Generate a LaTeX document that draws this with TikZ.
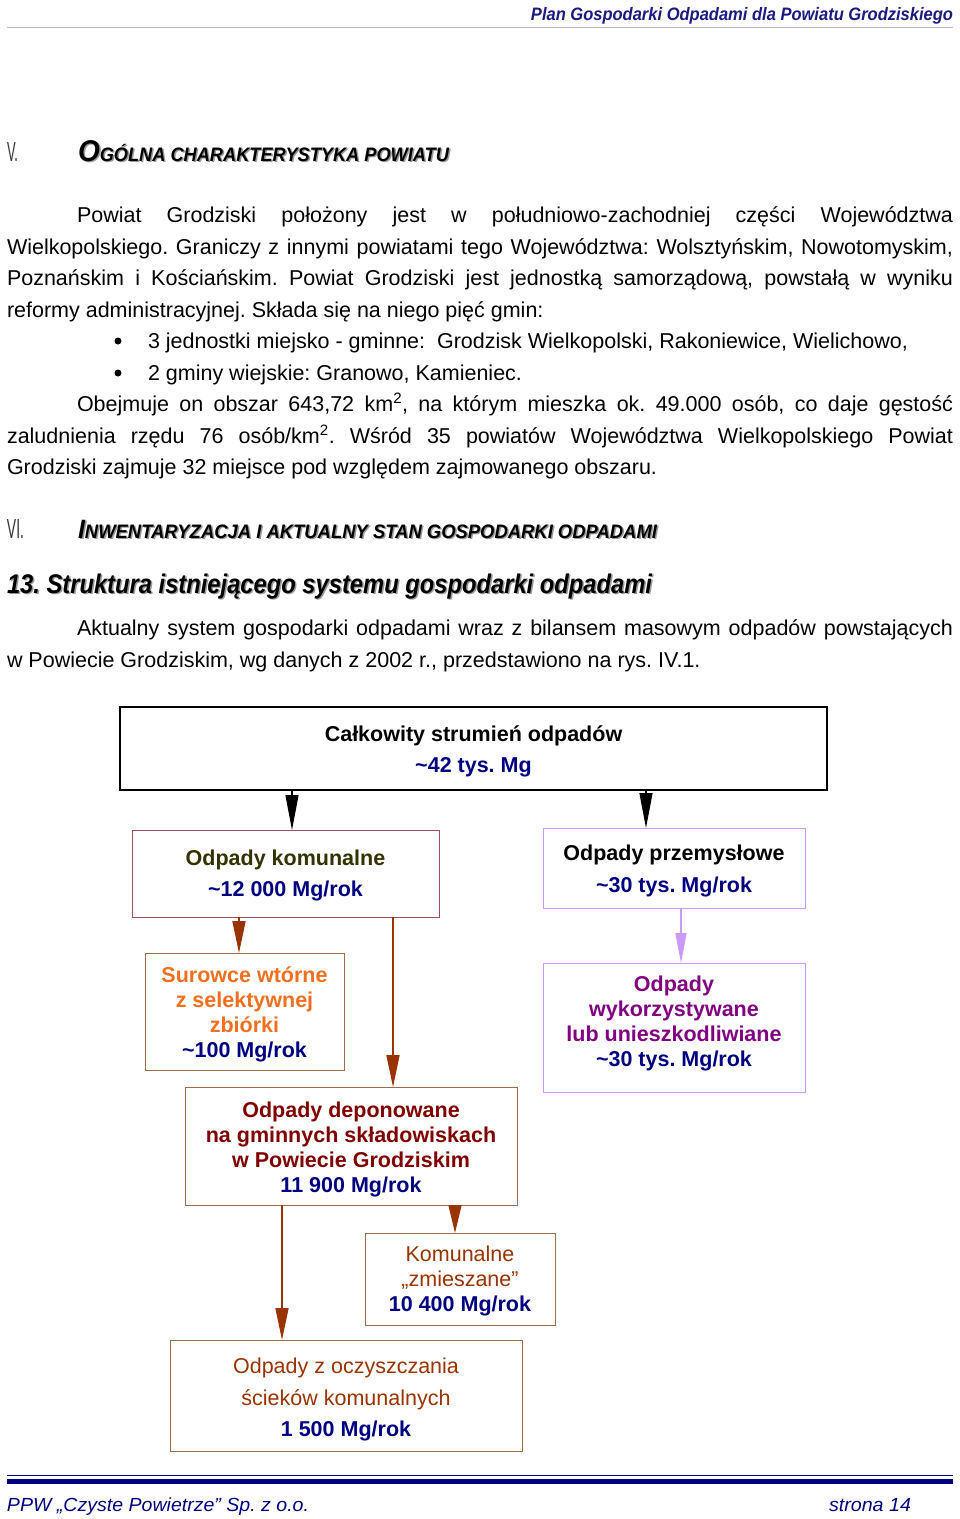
\documentclass[tikz,border=0pt]{standalone}
\usepackage{fontspec}
\setmainfont{Liberation Sans}
\usepackage{graphicx}
\usetikzlibrary{arrows.meta}
\frenchspacing
\definecolor{navy}{HTML}{000080}
\definecolor{hdrblue}{HTML}{1A1A80}
\definecolor{olivetxt}{HTML}{333300}
\definecolor{brownarr}{HTML}{993300}
\definecolor{brownbox}{HTML}{9C6A4E}
\definecolor{komborder}{HTML}{A0505A}
\definecolor{lilac}{HTML}{CC99FF}
\definecolor{orangetxt}{HTML}{F07020}
\definecolor{purpletxt}{HTML}{800080}
\definecolor{darkredtxt}{HTML}{800000}
\newcommand{\tstrut}[1]{\rule{0pt}{#1}}
\newcommand{\bstrut}[1]{\rule[-#1]{0pt}{1pt}}
\begin{document}
\begin{tikzpicture}[x=1pt,y=-1pt,
  every node/.style={inner sep=0pt, outer sep=0pt},
  body/.style={anchor=base west, font=\fontsize{21.5}{31.5}\selectfont},
  box/.style={draw, line width=1pt, align=center, font=\fontsize{21.5}{25}\selectfont\bfseries},
  widebox/.style={box, font=\fontsize{21.5}{31.5}\selectfont\bfseries},
  arrblack/.style={draw=black, line width=1.2pt, -{Triangle[length=35pt,width=13pt]}},
  arrbrown/.style={draw=brownarr, line width=1.6pt, -{Triangle[length=32pt,width=13pt]}},
  arrlilac/.style={draw=lilac, line width=1.6pt, -{Triangle[length=30pt,width=11pt]}},
  shadowtext/.style={text=black!40},
  bulletdot/.style={circle, fill=black, minimum size=7pt},
]
\useasboundingbox (0,0) rectangle (960,1519);
\fill[white] (0,0) rectangle (960,1519);

% header
\node[anchor=base east, text=hdrblue] (hdr) at (953,20) {\resizebox{422pt}{\height}{\fontsize{18}{18}\selectfont\bfseries\itshape Plan Gospodarki Odpadami dla Powiatu Grodziskiego}};
\coordinate (hrA) at (7,27);
\coordinate (hrB) at (953,27);
\draw[gray!55, line width=0.8pt] (hrA) -- (hrB);

% heading V
\node[anchor=base west, text=black!80] (v) at (7,161) {\resizebox{11pt}{19pt}{\fontsize{20}{20}\selectfont V.}};
\node[anchor=base west, shadowtext] (h1s) at (79.5,162.5) {\resizebox{371pt}{\height}{\bfseries\itshape{\fontsize{30}{30}\selectfont O}{\fontsize{19.5}{20}\selectfont GÓLNA CHARAKTERYSTYKA POWIATU}}};
\node[anchor=base west] (h1) at (78,161) {\resizebox{371pt}{\height}{\bfseries\itshape{\fontsize{30}{30}\selectfont O}{\fontsize{19.5}{20}\selectfont GÓLNA CHARAKTERYSTYKA POWIATU}}};

% paragraph 1
\node[body] (p1) at (77,222.5) {\makebox[876pt][s]{Powiat Grodziski położony jest w południowo-zachodniej części Województwa}};
\node[body] (p2) at (7,254) {\makebox[946pt][s]{Wielkopolskiego. Graniczy z innymi powiatami tego Województwa: Wolsztyńskim, Nowotomyskim,}};
\node[body] (p3) at (7,285.5) {\makebox[946pt][s]{Poznańskim i Kościańskim. Powiat Grodziski jest jednostką samorządową, powstałą w wyniku}};
\node[body] (p4) at (7,317) {reformy administracyjnej. Składa się na niego pięć gmin:};
\node[bulletdot] (bl1) at (118,341) {};
\node[body] (li1) at (148,348.5) {3 jednostki miejsko - gminne:\ \ Grodzisk Wielkopolski, Rakoniewice, Wielichowo,};
\node[bulletdot] (bl2) at (118,373) {};
\node[body] (li2) at (148,380) {2 gminy wiejskie: Granowo, Kamieniec.};
\node[body] (p5) at (77,411.5) {\makebox[876pt][s]{Obejmuje on obszar 643,72 km\textsuperscript{2}, na którym mieszka ok. 49.000 osób, co daje gęstość}};
\node[body] (p6) at (7,443) {\makebox[946pt][s]{zaludnienia rzędu 76 osób/km\textsuperscript{2}. Wśród 35 powiatów Województwa Wielkopolskiego Powiat}};
\node[body] (p7) at (7,474.5) {Grodziski zajmuje 32 miejsce pod względem zajmowanego obszaru.};

% heading VI
\node[anchor=base west, text=black!80] (vi) at (7,538) {\resizebox{17pt}{19pt}{\fontsize{20}{20}\selectfont VI.}};
\node[anchor=base west, shadowtext] (h2s) at (79.5,539.5) {\resizebox{579pt}{\height}{\bfseries\itshape{\fontsize{26.5}{27}\selectfont I}{\fontsize{19.5}{20}\selectfont NWENTARYZACJA I AKTUALNY STAN GOSPODARKI ODPADAMI}}};
\node[anchor=base west] (h2) at (78,538) {\resizebox{579pt}{\height}{\bfseries\itshape{\fontsize{26.5}{27}\selectfont I}{\fontsize{19.5}{20}\selectfont NWENTARYZACJA I AKTUALNY STAN GOSPODARKI ODPADAMI}}};

% heading 13
\node[anchor=base west, shadowtext] (h3s) at (8.5,594.5) {\resizebox{645pt}{\height}{\fontsize{27}{27}\selectfont\bfseries\itshape 13. Struktura istniejącego systemu gospodarki odpadami}};
\node[anchor=base west] (h3) at (7,593) {\resizebox{645pt}{\height}{\fontsize{27}{27}\selectfont\bfseries\itshape 13. Struktura istniejącego systemu gospodarki odpadami}};

\node[body] (p8) at (77,635.5) {\makebox[876pt][s]{Aktualny system gospodarki odpadami wraz z bilansem masowym odpadów powstających}};
\node[body] (p9) at (7,667) {w Powiecie Grodziskim, wg danych z 2002 r., przedstawiono na rys. IV.1.};

% diagram
\node[widebox, line width=2pt, minimum width=707pt, minimum height=83pt] (b1) at (473.5,748.5)
  {\tstrut{22pt}Całkowity strumień odpadów\\\textcolor{navy}{\textasciitilde 42 tys. Mg}};
\node[widebox, draw=komborder, minimum width=307pt, minimum height=87pt] (b2) at (285.5,873.5)
  {\tstrut{19.7pt}\textcolor{olivetxt}{Odpady komunalne}\\\textcolor{navy}{\textasciitilde 12 000 Mg/rok}};
\node[widebox, draw=lilac, minimum width=262pt, minimum height=80pt] (b3) at (674,868)
  {\tstrut{21.7pt}Odpady przemysłowe\\\textcolor{navy}{\textasciitilde 30 tys. Mg/rok}};
\node[box, draw=brownbox, minimum width=199pt, minimum height=117pt] (b4) at (244.5,1011.5)
  {\tstrut{22pt}\textcolor{orangetxt}{Surowce wtórne}\\\textcolor{orangetxt}{z selektywnej}\\\textcolor{orangetxt}{zbiórki}\\\textcolor{navy}{\textasciitilde 100 Mg/rok}};
\node[box, draw=lilac, minimum width=262pt, minimum height=129pt] (b5) at (674,1027.5)
  {\textcolor{purpletxt}{Odpady}\\\textcolor{purpletxt}{wykorzystywane}\\\textcolor{purpletxt}{lub unieszkodliwiane}\\\textcolor{navy}{\textasciitilde 30 tys. Mg/rok}\bstrut{12.5pt}};
\node[box, draw=brownbox, minimum width=332pt, minimum height=118pt] (b6) at (351,1146)
  {\tstrut{21.7pt}\textcolor{darkredtxt}{Odpady deponowane}\\\textcolor{darkredtxt}{na gminnych składowiskach}\\\textcolor{darkredtxt}{w Powiecie Grodziskim}\\\textcolor{navy}{11 900 Mg/rok}};
\node[box, draw=brownbox, minimum width=190pt, minimum height=92pt] (b7) at (460,1279)
  {\tstrut{19.7pt}\textcolor{brownarr}{\mdseries Komunalne}\\\textcolor{brownarr}{\mdseries „zmieszane”}\\\textcolor{navy}{10 400 Mg/rok}};
\node[widebox, draw=brownbox, minimum width=352pt, minimum height=111pt] (b8) at (346,1395.5)
  {\tstrut{23.7pt}\textcolor{brownarr}{\mdseries Odpady z oczyszczania}\\\textcolor{brownarr}{\mdseries ścieków komunalnych}\\\textcolor{navy}{1 500 Mg/rok}};

\coordinate (xa) at (292,0);
\coordinate (xb) at (646,0);
\coordinate (xc) at (239,0);
\coordinate (xd) at (393,0);
\coordinate (xe) at (681,0);
\coordinate (xf) at (282,0);
\coordinate (xg) at (455,0);
\draw[arrblack] (b1.south -| xa) -- (b2.north -| xa);
\draw[arrblack] (b1.south -| xb) -- (b3.north -| xb);
\draw[arrbrown] (b2.south -| xc) -- (b4.north -| xc);
\draw[arrbrown] (b2.south -| xd) -- (b6.north -| xd);
\draw[arrlilac] (b3.south -| xe) -- (b5.north -| xe);
\draw[arrbrown] (b6.south -| xf) -- (b8.north -| xf);
\draw[arrbrown, -{Triangle[length=28pt,width=13pt]}] (b6.south -| xg) -- (b7.north -| xg);

% footer
\coordinate (fA) at (7,1475.5);
\coordinate (fB) at (953,1475.5);
\coordinate (fC) at (7,1481.5);
\coordinate (fD) at (953,1481.5);
\draw[navy, line width=1.5pt] (fA) -- (fB);
\draw[navy, line width=5pt] (fC) -- (fD);
\node[anchor=base west, text=navy] (ft1) at (7,1511) {\resizebox{302pt}{\height}{\fontsize{19}{19}\selectfont\itshape PPW „Czyste Powietrze” Sp. z o.o.}};
\node[anchor=base east, text=navy] (ft2) at (911,1511) {\resizebox{82pt}{\height}{\fontsize{19}{19}\selectfont\itshape strona 14}};
\end{tikzpicture}
\end{document}
